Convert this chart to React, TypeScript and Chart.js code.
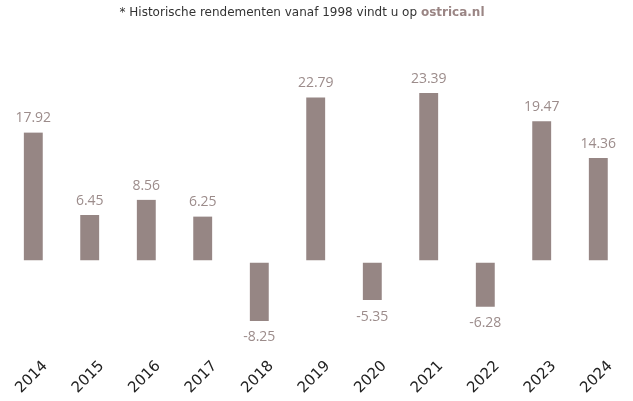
import React, { useEffect, useRef } from "react";
import { Chart, registerables } from "chart.js";
Chart.register(...registerables);

const years = ["2014", "2015", "2016", "2017", "2018", "2019", "2020", "2021", "2022", "2023", "2024"];
const returns = [17.92, 6.45, 8.56, 6.25, -8.25, 22.79, -5.35, 23.39, -6.28, 19.47, 14.36];
const yMin = -10;
const yMax = 30;

const BAR_COLOR = "#968684";
const LABEL_COLOR = "#9c8c8b";

const valueLabels = {
  id: "valueLabels",
  afterDatasetsDraw(chart: any) {
    const ctx = chart.ctx;
    const meta = chart.getDatasetMeta(0);
    ctx.save();
    ctx.font = '14px "Open Sans"';
    ctx.fillStyle = LABEL_COLOR;
    ctx.textAlign = "center";
    ctx.textBaseline = "middle";
    meta.data.forEach((bar: any, i: number) => {
      const v = returns[i];
      const y = v >= 0 ? bar.y - 14 : bar.y + 16.5;
      ctx.fillText(v.toFixed(2), bar.x, y);
    });
    ctx.restore();
  },
};

export default function App() {
  const ref = useRef<HTMLCanvasElement>(null);
  useEffect(() => {
    if (!ref.current) return;
    const chart = new Chart(ref.current, {
      type: "bar",
      data: {
        labels: years,
        datasets: [
          {
            data: returns,
            backgroundColor: BAR_COLOR,
            borderColor: "#ffffff",
            borderSkipped: false,
            borderWidth: (c: any) =>
              c.raw >= 0 ? { top: 0, left: 0, right: 0, bottom: 1.5 } : { top: 1.5, left: 0, right: 0, bottom: 0 },
            barThickness: 19,
          },
        ],
      },
      options: {
        responsive: false,
        animation: false,
        devicePixelRatio: 1,
        layout: { padding: { left: 5, right: 6.5, top: 45.5, bottom: 0 } },
        plugins: { legend: { display: false }, tooltip: { enabled: false }, title: { display: false } },
        scales: {
          x: {
            grid: { display: false, drawTicks: false },
            border: { display: false },
            ticks: {
              minRotation: 45,
              maxRotation: 45,
              autoSkip: false,
              font: { family: "DejaVu Sans", size: 15 },
              color: "#222222",
              labelOffset: 12,
              padding: 24,
            },
            afterFit: (s: any) => {
              s.height = 67.5;
              s.paddingLeft = 0;
              s.paddingRight = 0;
            },
          },
          y: { display: false, min: yMin, max: yMax },
        },
      },
      plugins: [valueLabels],
    } as any);
    return () => chart.destroy();
  }, []);

  return (
    <div style={{ position: "fixed", left: 0, top: 0, width: 633, height: 401, background: "#fff" }}>
      <div
        style={{
          position: "absolute",
          top: 5,
          left: 0,
          width: 604,
          textAlign: "center",
          fontFamily: "DejaVu Sans",
          fontSize: 12,
          color: "#333",
          whiteSpace: "nowrap",
        }}
      >
        * Historische rendementen vanaf 1998 vindt u op{" "}
        <span style={{ color: "#9a8584", fontWeight: "bold" }}>ostrica.nl</span>
      </div>
      <canvas ref={ref} width={633} height={401} style={{ width: 633, height: 401, display: "block" }} />
    </div>
  );
}
